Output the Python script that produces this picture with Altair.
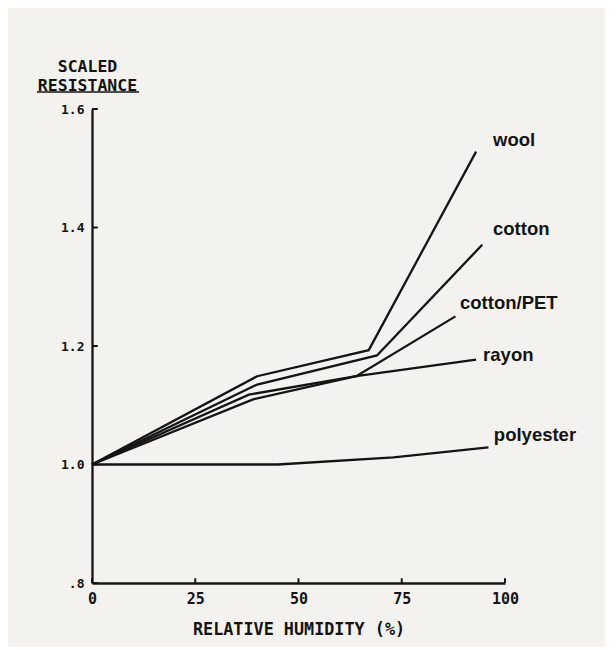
import altair as alt
import pandas as pd

# ---- data ----
series = ["wool", "cotton", "cotton/PET", "rayon", "polyester"]
humidity = {
    "wool":       [0, 40, 67, 93],
    "cotton":     [0, 40, 69, 94.5],
    "cotton/PET": [0, 38, 64, 88],
    "rayon":      [0, 39, 64, 93],
    "polyester":  [0, 45, 73, 96],
}
resistance = {
    "wool":       [1.0, 1.149, 1.193, 1.528],
    "cotton":     [1.0, 1.135, 1.184, 1.371],
    "cotton/PET": [1.0, 1.118, 1.149, 1.250],
    "rayon":      [1.0, 1.110, 1.149, 1.177],
    "polyester":  [1.0, 1.000, 1.012, 1.029],
}
label_x = [97.1, 97.1, 89.1, 94.7, 97.3]
label_y = [1.537, 1.388, 1.263, 1.174, 1.039]

x_ticks = [0, 25, 50, 75, 100]
y_ticks = [0.8, 1.0, 1.2, 1.4, 1.6]

rows = []
for s in series:
    for i, (h, r) in enumerate(zip(humidity[s], resistance[s])):
        rows.append({"series": s, "order": i, "rh": h, "res": r})
df = pd.DataFrame(rows)
labels_df = pd.DataFrame({"series": series, "lx": label_x, "ly": label_y})
xt_df = pd.DataFrame({"t": x_ticks})
yt_df = pd.DataFrame({"t": y_ticks})

INK = "#141414"
PLOT_FONT = "DejaVu Sans Mono"

xscale = alt.Scale(domain=[0, 100], nice=False, zero=False)
yscale = alt.Scale(domain=[0.8, 1.6], nice=False, zero=False)

label_expr = "datum.value == 0.8 ? '.8' : format(datum.value, '.1f')"

lines = alt.Chart(df).mark_line(color=INK, strokeWidth=2.3).encode(
    x=alt.X("rh:Q", scale=xscale,
            axis=alt.Axis(values=x_ticks, format="d", grid=False, ticks=False, tickSize=0,
                          domainColor=INK, domainWidth=2.3,
                          labelFont=PLOT_FONT, labelFontWeight="bold", labelFontSize=15,
                          labelColor=INK, labelPadding=8, labelFlush=False,
                          title="RELATIVE HUMIDITY (%)", titleFont=PLOT_FONT,
                          titleFontWeight="bold", titleFontSize=16.8, titleColor=INK,
                          titleBaseline="alphabetic", titleY=51)),
    y=alt.Y("res:Q", scale=yscale,
            axis=alt.Axis(values=y_ticks, labelExpr=label_expr, grid=False, ticks=False, tickSize=0,
                          domainColor=INK, domainWidth=2.3,
                          labelFont=PLOT_FONT, labelFontWeight="bold", labelFontSize=13,
                          labelColor=INK, labelPadding=8, labelFlush=False,
                          title=["SCALED", "RESISTANCE"], titleFont=PLOT_FONT,
                          titleFontWeight="bold", titleFontSize=16.5, titleColor=INK,
                          titleAngle=0, titleAlign="center", titleBaseline="alphabetic",
                          titleX=-5, titleY=-38, titleLineHeight=19.5)),
    detail="series:N",
    order="order:Q",
)

xticks = alt.Chart(xt_df).mark_rule(color=INK, strokeWidth=2).encode(
    x=alt.X("t:Q", scale=xscale),
    y=alt.Y("y0:Q", scale=yscale),
    y2="y1:Q",
).transform_calculate(y0="0.8", y1="0.808")

yticks = alt.Chart(yt_df).mark_rule(color=INK, strokeWidth=2).encode(
    y=alt.Y("t:Q", scale=yscale),
    x=alt.X("x0:Q", scale=xscale),
    x2="x1:Q",
).transform_calculate(x0="0", x1="1.4")

labels = alt.Chart(labels_df).mark_text(
    font="Liberation Sans", fontWeight="bold", fontSize=18.5, color=INK,
    align="left", baseline="alphabetic"
).encode(
    x=alt.X("lx:Q", scale=xscale),
    y=alt.Y("ly:Q", scale=yscale),
    text="series:N",
)

underline = alt.Chart(pd.DataFrame({"a": [0]})).mark_rule(color=INK, strokeWidth=1.6).encode(
    x=alt.value(-55), x2=alt.value(47), y=alt.value(-17)
)

chart = alt.layer(lines, xticks, yticks, labels, underline).properties(
    width=413, height=474,
    autosize=alt.AutoSizeParams(type="none"),
    padding={"left": 84, "top": 101, "right": 100, "bottom": 64},
    background="#f3f2ef",
).configure_view(stroke=None)

chart.save("out.html", embed_options={"renderer": "svg", "actions": False})
